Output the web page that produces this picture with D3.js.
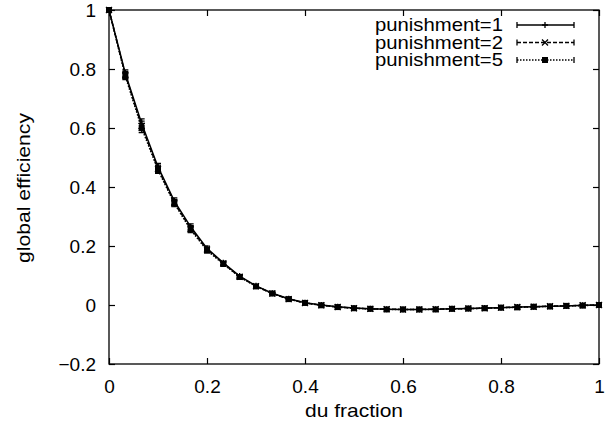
<!DOCTYPE html>
<html><head><meta charset="utf-8">
<script src="https://cdn.jsdelivr.net/npm/d3@7"></script>
<style>body{margin:0;background:#fff}svg{display:block}text{font-family:"Liberation Sans",Arial,sans-serif;fill:#000}</style>
</head><body><svg id="c" width="613" height="435"></svg>
<script>
const duFraction = d3.range(31).map(i => i / 30);
const series1 = [1, 0.785, 0.615, 0.468, 0.352, 0.265, 0.192, 0.143, 0.098, 0.065, 0.040, 0.021, 0.008, 0.000, -0.006, -0.010, -0.013, -0.014, -0.015, -0.015, -0.014, -0.013, -0.012, -0.010, -0.009, -0.007, -0.006, -0.004, -0.003, -0.001, 0.000];
const series2 = [1, 0.780, 0.607, 0.462, 0.347, 0.259, 0.188, 0.141, 0.096, 0.064, 0.039, 0.020, 0.007, -0.001, -0.007, -0.011, -0.013, -0.014, -0.015, -0.015, -0.014, -0.013, -0.012, -0.011, -0.009, -0.007, -0.006, -0.004, -0.003, -0.001, 0.000];
const series5 = [1, 0.776, 0.600, 0.458, 0.344, 0.255, 0.185, 0.139, 0.095, 0.063, 0.039, 0.020, 0.007, -0.001, -0.007, -0.011, -0.013, -0.015, -0.015, -0.015, -0.015, -0.013, -0.012, -0.011, -0.009, -0.008, -0.006, -0.005, -0.003, -0.002, 0.000];
const errors = [0, 0.012, 0.016, 0.012, 0.011, 0.010, 0.008, 0.006, 0.005, 0.004, 0.003, 0.003, 0.002, 0.002, 0.002, 0.002, 0.002, 0.002, 0.002, 0.002, 0.002, 0.002, 0.002, 0.002, 0.002, 0.002, 0.002, 0.002, 0.002, 0.002, 0.002];
const seriesNames = ["punishment=1", "punishment=2", "punishment=5"];
const xTicks = [0, 0.2, 0.4, 0.6, 0.8, 1];
const yTicks = [-0.2, 0, 0.2, 0.4, 0.6, 0.8, 1];

const svg = d3.select("#c");
const L = 109, R = 599, T = 10, B = 364;
const x = d3.scaleLinear().domain([0, 1]).range([L, R]);
const y = d3.scaleLinear().domain([-0.2, 1]).range([B, T]);
const fs = "19px";

const g = svg.append("g");
g.append("rect").attr("x", L).attr("y", T).attr("width", R - L).attr("height", B - T)
  .attr("fill", "none").attr("stroke", "#000").attr("stroke-width", 1.3);

const tl = 6;
const xa = g.append("g").attr("transform", `translate(0,${B})`)
  .call(d3.axisBottom(x).tickValues(xTicks).tickSize(-tl).tickPadding(tl + 10).tickFormat(d3.format("~g")));
const xt = g.append("g").attr("transform", `translate(0,${T})`)
  .call(d3.axisTop(x).tickValues(xTicks).tickSize(-tl).tickFormat(""));
const ya = g.append("g").attr("transform", `translate(${L},0)`)
  .call(d3.axisLeft(y).tickValues(yTicks).tickSize(-tl).tickPadding(tl + 7).tickFormat(d3.format("~g")));
const yr = g.append("g").attr("transform", `translate(${R},0)`)
  .call(d3.axisRight(y).tickValues(yTicks).tickSize(-tl).tickFormat(""));
[xa, xt, ya, yr].forEach(a => {
  a.select(".domain").remove();
  a.selectAll("line").attr("stroke", "#000").attr("stroke-width", 1.2);
  a.selectAll("text").style("font-size", fs).style("font-family", '"Liberation Sans",Arial,sans-serif').attr("fill", "#000");
});
ya.selectAll("text").attr("dy", "0.35em");

svg.append("text").attr("x", 354).attr("y", 417).attr("text-anchor", "middle")
  .attr("textLength", 98).attr("lengthAdjust", "spacingAndGlyphs")
  .style("font-size", fs).text("du fraction");
svg.append("text").attr("transform", `translate(30,188) rotate(-90)`).attr("text-anchor", "middle")
  .attr("textLength", 150).attr("lengthAdjust", "spacingAndGlyphs")
  .style("font-size", fs).text("global efficiency");

const allSeries = [series1, series2, series5];
const dashes = [null, "4,2", "1.5,1.5"];
const line = d3.line().x((d, i) => x(duFraction[i])).y(d => y(d));

function marker(sel, type, cx, cy) {
  if (type === 0) {
    sel.append("path").attr("d", `M${cx-3},${cy}H${cx+3}M${cx},${cy-3}V${cy+3}`).attr("stroke", "#000").attr("stroke-width", 1.3);
  } else if (type === 1) {
    sel.append("path").attr("d", `M${cx-3},${cy-3}L${cx+3},${cy+3}M${cx-3},${cy+3}L${cx+3},${cy-3}`).attr("stroke", "#000").attr("stroke-width", 1.3);
  } else {
    sel.append("rect").attr("x", cx - 3).attr("y", cy - 3).attr("width", 6).attr("height", 6).attr("fill", "#000");
  }
}

allSeries.forEach((s, k) => {
  const sg = svg.append("g");
  sg.append("path").datum(s).attr("d", line).attr("fill", "none").attr("stroke", "#000")
    .attr("stroke-width", 1.5).attr("stroke-dasharray", dashes[k]);
  s.forEach((v, i) => {
    const cx = x(duFraction[i]);
    const y1 = y(v + errors[i]), y2 = y(v - errors[i]);
    sg.append("path").attr("d", `M${cx},${y1}V${y2}M${cx-3},${y1}H${cx+3}M${cx-3},${y2}H${cx+3}`)
      .attr("stroke", "#000").attr("stroke-width", 1.2);
    marker(sg, k, cx, y(v));
  });
});

const rows = [25, 42.5, 60];
seriesNames.forEach((n, k) => {
  const ly = rows[k];
  svg.append("text").attr("x", 503).attr("y", ly).attr("dy", "0.33em").attr("text-anchor", "end")
    .attr("textLength", 128).attr("lengthAdjust", "spacingAndGlyphs")
    .style("font-size", fs).text(n);
  const lg = svg.append("g");
  lg.append("path").attr("d", `M517,${ly}H574`).attr("stroke", "#000").attr("stroke-width", 1.5)
    .attr("stroke-dasharray", dashes[k]);
  lg.append("path").attr("d", `M517,${ly-3}V${ly+3}M574,${ly-3}V${ly+3}`).attr("stroke", "#000").attr("stroke-width", 1.3);
  marker(lg, k, 545, ly);
});
</script></body></html>
